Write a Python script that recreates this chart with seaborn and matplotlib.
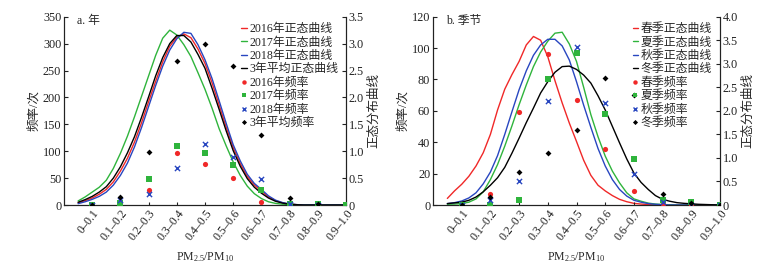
import numpy as np
import pandas as pd
import matplotlib
matplotlib.use("Agg")
import matplotlib.pyplot as plt
from matplotlib.lines import Line2D
from matplotlib.ticker import FuncFormatter, MultipleLocator
import seaborn as sns

# ---------------- data ----------------
categories = ["0–0.1", "0.1–0.2", "0.2–0.3", "0.3–0.4", "0.4–0.5",
              "0.5–0.6", "0.6–0.7", "0.7–0.8", "0.8–0.9", "0.9–1.0"]

curve_pos = [-0.5, -0.25, 0, 0.25, 0.5, 0.75, 1, 1.25, 1.5, 1.75, 2, 2.25, 2.5,
             2.75, 3, 3.25, 3.5, 3.75, 4, 4.25, 4.5, 4.75, 5, 5.25, 5.5, 5.75,
             6, 6.25, 6.5, 6.75, 7, 7.25, 7.5, 7.75, 8, 8.25, 8.5, 8.75, 9]

# panel a: yearly frequencies (days)
freq_2016 = [0, 4, 27, 96, 77, 51, 6, 0, 0, np.nan]
freq_2017 = [0, 3, 48, 110, 96, 74, 27, 2.5, 1, 0]
freq_2018 = [0, 9, 21, 69, 113, 90, 48, 1, 0, np.nan]
freq_avg = [0, 14, 98, 267, 300, 258, 131, 13, 2, np.nan]

# panel a: normal curves (right axis)
curve_2016 = [0.04, 0.08, 0.13, 0.20, 0.29, 0.43, 0.63, 0.87, 1.17, 1.53, 1.92, 2.30, 2.66,
              2.95, 3.12, 3.18, 3.11, 2.90, 2.63, 2.27, 1.86, 1.45, 1.07, 0.77, 0.53, 0.37,
              0.26, 0.15, 0.08, 0.04, 0.015, 0.006, 0, 0, 0, 0, 0, 0, 0]
curve_2017 = [0.075, 0.15, 0.24, 0.33, 0.46, 0.68, 0.96, 1.28, 1.64, 2.02, 2.40, 2.78, 3.10,
              3.25, 3.16, 2.98, 2.76, 2.46, 2.15, 1.80, 1.42, 1.10, 0.80, 0.55, 0.35, 0.21,
              0.12, 0.06, 0.03, 0.015, 0.01, 0.005, 0, 0, 0, 0, 0, 0, 0]
curve_2018 = [0.025, 0.06, 0.105, 0.16, 0.24, 0.37, 0.55, 0.78, 1.08, 1.44, 1.83, 2.22, 2.58,
              2.88, 3.09, 3.21, 3.19, 2.98, 2.70, 2.35, 1.94, 1.52, 1.12, 0.82, 0.57, 0.40,
              0.29, 0.17, 0.09, 0.045, 0.018, 0.007, 0, 0, 0, 0, 0, 0, 0]
curve_avg = [0.05, 0.10, 0.16, 0.24, 0.34, 0.50, 0.71, 0.97, 1.27, 1.63, 2.01, 2.40, 2.74,
             3.00, 3.15, 3.15, 3.03, 2.80, 2.54, 2.17, 1.78, 1.38, 1.01, 0.72, 0.49, 0.33,
             0.22, 0.13, 0.07, 0.035, 0.015, 0.006, 0, 0, 0, 0, 0, 0, 0]

# panel b: seasonal frequencies (days)
freq_spring = [0, 7, 59, 96, 67, 36, 9, 0.5, 0, 0]
freq_summer = [0, 0, 3, 80, 97, 58, 29, 3, 2, 0]
freq_autumn = [0, 3.5, 15, 66, 101, 65, 19.5, 2, 0, 0]
freq_winter = [0, 5, 21, 33, 48, 81, 70, 7, 1, 0]

# panel b: normal curves (right axis)
curve_spring = [0.14, 0.30, 0.44, 0.61, 0.83, 1.11, 1.50, 2.02, 2.46, 2.77, 3.05, 3.40, 3.58,
                3.50, 3.15, 2.64, 2.17, 1.74, 1.35, 0.95, 0.63, 0.42, 0.30, 0.20, 0.12, 0.07,
                0.035, 0.02, 0.01, 0.005, 0, 0, 0, 0, 0, 0, 0, 0, 0]
curve_summer = [0.015, 0.02, 0.03, 0.06, 0.13, 0.28, 0.54, 0.86, 1.25, 1.68, 2.13, 2.55, 2.94,
                3.25, 3.48, 3.65, 3.67, 3.42, 3.05, 2.50, 1.92, 1.45, 1.04, 0.72, 0.47, 0.26,
                0.13, 0.08, 0.04, 0.02, 0.01, 0.005, 0, 0, 0, 0, 0, 0, 0]
curve_autumn = [0.03, 0.05, 0.085, 0.15, 0.26, 0.45, 0.70, 1.05, 1.50, 1.98, 2.45, 2.85, 3.18,
                3.40, 3.52, 3.52, 3.38, 3.08, 2.62, 2.12, 1.65, 1.20, 0.83, 0.54, 0.33, 0.19,
                0.10, 0.06, 0.03, 0.015, 0.007, 0, 0, 0, 0, 0, 0, 0, 0]
curve_winter = [0.03, 0.045, 0.06, 0.10, 0.17, 0.28, 0.42, 0.58, 0.80, 1.10, 1.42, 1.75, 2.06,
                2.38, 2.62, 2.82, 2.94, 2.95, 2.88, 2.76, 2.59, 2.32, 2.02, 1.67, 1.32, 0.98,
                0.68, 0.48, 0.33, 0.20, 0.12, 0.08, 0.05, 0.035, 0.025, 0.015, 0.01, 0.005, 0]

# ---------------- style ----------------
sns.set_style("ticks")
plt.rcParams["font.family"] = ["Liberation Serif", "Noto Sans CJK SC"]
plt.rcParams["mathtext.fontset"] = "custom"
plt.rcParams["mathtext.rm"] = "Liberation Serif"
plt.rcParams["mathtext.it"] = "Liberation Serif:italic"
plt.rcParams["mathtext.default"] = "regular"
plt.rcParams["axes.unicode_minus"] = False

RED, GREEN, BLUE, BLACK = "#f02828", "#2fb43c", "#2846c0", "#000000"
cat_pos = list(range(len(categories)))


def fmt_right(v, _):
    return "0" if abs(v) < 1e-9 else f"{v:.1f}"


def draw_panel(rect, title, curves, freqs, curve_names, freq_names,
               left_max, left_step, right_max):
    ax = fig.add_axes(rect)
    ax2 = ax.twinx()
    colors = [RED, GREEN, BLUE, BLACK]
    markers = ["o", "s", "x", "D"]
    sizes = [14, 14, 14, 9]
    for vals, c in zip(curves, colors):
        sns.lineplot(x=curve_pos, y=vals, ax=ax2, color=c, lw=1.0,
                     estimator=None, sort=False, legend=False,
                     solid_joinstyle="round")
    for vals, c, m, s in zip(freqs, colors, markers, sizes):
        kw = dict(linewidth=1.0) if m == "x" else dict(linewidth=0)
        sns.scatterplot(x=cat_pos, y=vals, ax=ax, color=c, marker=m, s=s,
                        legend=False, zorder=3, **kw)

    ax.set_zorder(ax2.get_zorder() + 1)
    ax.patch.set_visible(False)

    ax.set_xlim(-1, 9)
    ax.set_ylim(0, left_max)
    ax2.set_ylim(0, right_max)
    ax.yaxis.set_major_locator(MultipleLocator(left_step))
    ax2.yaxis.set_major_locator(MultipleLocator(0.5))
    ax2.yaxis.set_major_formatter(FuncFormatter(fmt_right))
    ax.set_xticks(cat_pos)
    ax.set_xticklabels(categories, rotation=52, ha="right", va="top",
                       rotation_mode="anchor")

    for a in (ax, ax2):
        a.spines["top"].set_visible(False)
        for s in a.spines.values():
            s.set_linewidth(0.8)
            s.set_color("#222222")
        a.tick_params(direction="in", length=3, width=0.8, labelsize=8.8,
                      colors="#222222", pad=2)
    ax.tick_params(axis="x", length=2.5, pad=2, labelsize=8.6)

    ax.set_ylabel("频率/次", fontsize=9, labelpad=2)
    ax2.set_ylabel("正态分布曲线", fontsize=9, labelpad=3)
    ax.set_xlabel("PM$_{2.5}$/PM$_{10}$", fontsize=8.5, labelpad=5)
    ax.text(0.045, 0.975, title, transform=ax.transAxes, fontsize=8.5,
            ha="left", va="center")

    handles = [Line2D([], [], color=c, lw=1.0) for c in colors]
    handles += [Line2D([], [], color=c, marker=m, ls="none",
                       markersize=(3.2 if m != "D" else 2.6),
                       markeredgewidth=(1.0 if m == "x" else 0))
                for c, m in zip(colors, markers)]
    ax.legend(handles, curve_names + freq_names, loc="upper right",
              bbox_to_anchor=(0.985, 0.985), frameon=False, fontsize=8.6,
              handlelength=0.5, handletextpad=0.2, labelspacing=0.12,
              borderaxespad=0.2, borderpad=0.1)
    return ax, ax2


fig = plt.figure(figsize=(7.83, 2.69), dpi=100)
H = 269.0
W = 783.0
ax_bottom = 1 - 205 / H
ax_height = (205 - 16.7) / H

draw_panel([64 / W, ax_bottom, (346 - 64) / W, ax_height], "a. 年",
           [curve_2016, curve_2017, curve_2018, curve_avg],
           [freq_2016, freq_2017, freq_2018, freq_avg],
           ["2016年正态曲线", "2017年正态曲线", "2018年正态曲线", "3年平均正态曲线"],
           ["2016年频率", "2017年频率", "2018年频率", "3年平均频率"],
           350, 50, 3.5)

draw_panel([433 / W, ax_bottom, (720 - 433) / W, ax_height], "b. 季节",
           [curve_spring, curve_summer, curve_autumn, curve_winter],
           [freq_spring, freq_summer, freq_autumn, freq_winter],
           ["春季正态曲线", "夏季正态曲线", "秋季正态曲线", "冬季正态曲线"],
           ["春季频率", "夏季频率", "秋季频率", "冬季频率"],
           120, 20, 4.0)

fig.savefig("out.png", dpi=100)
